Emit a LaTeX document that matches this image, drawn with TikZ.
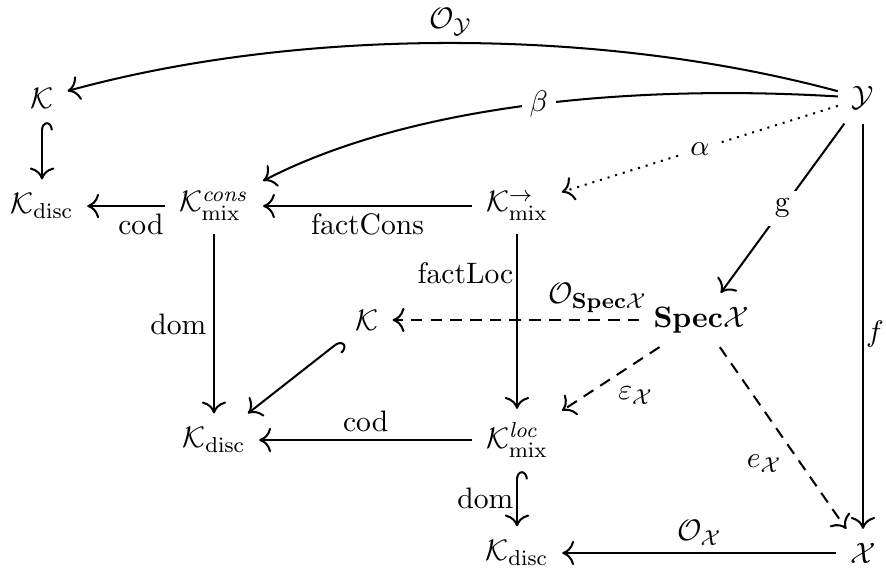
\documentclass[tikz,border=0pt]{standalone}
\usepackage{amsmath,amssymb}
\usetikzlibrary{arrows.meta}
\begin{document}
\begin{tikzpicture}[x=0.37pt,y=-0.37pt,
  every node/.style={font=\fontsize{10.95}{13}\selectfont},
  obj/.style={inner sep=5pt},
  lbl/.style={inner sep=2.5pt},
  lblw/.style={inner sep=3pt, fill=white},
  ar/.style={line width=0.75pt, -{Computer Modern Rightarrow[length=4.4pt,width=9pt]}},
  hk/.style={line width=0.75pt, {Hooks[right,width=8pt,length=3pt]}-{Computer Modern Rightarrow[length=4.4pt,width=9pt]}},
  dsh/.style={dash pattern=on 4.3pt off 3pt},
  dtd/.style={dash pattern=on 0.75pt off 2.2pt}
]
\useasboundingbox (0,0) rectangle (886,573);
\node[obj] (K1) at (42,98) {$\mathcal{K}$};
\node[obj] (Y) at (863,98) {$\mathcal{Y}$};
\node[obj] (Kd1) at (42,206) {$\mathcal{K}_{\mathrm{disc}}$};
\node[obj] (Kc) at (214,206) {$\mathcal{K}^{\mathit{cons}}_{\mathrm{mix}}$};
\node[obj] (Ka) at (517,206) {$\mathcal{K}^{\rightarrow}_{\mathrm{mix}}$};
\node[obj] (K2) at (367,320) {$\mathcal{K}$};
\node[obj] (S) at (701,320) {$\mathbf{Spec}\mathcal{X}$};
\node[obj] (Kd2) at (214,440) {$\mathcal{K}_{\mathrm{disc}}$};
\node[obj] (Kl) at (517,440) {$\mathcal{K}^{\mathit{loc}}_{\mathrm{mix}}$};
\node[obj] (Kd3) at (517,553) {$\mathcal{K}_{\mathrm{disc}}$};
\node[obj] (X) at (863,553) {$\mathcal{X}$};

\draw[ar] (Y) .. controls (600,27) and (300,27) .. (K1) node[lbl,above,pos=0.5] {$\mathcal{O}_{\mathcal{Y}}$};
\draw[ar] (Y) .. controls (650,85) and (420,100) .. (Kc) node[lblw,pos=0.5] {$\beta$};
\draw[ar,dtd] (Y) -- node[lblw] {$\alpha$} (Ka);
\draw[ar] (Y) -- node[lblw] {$\mathrm{g}$} (S);
\draw[ar] (Y) -- node[right,inner sep=0.8pt,pos=0.52] {$f$} (X);
\draw[hk] (K1) -- (Kd1);
\draw[ar] (Kc) -- node[lbl,below,pos=0.31] {cod} (Kd1);
\draw[ar] (Ka) -- node[lbl,below] {factCons} (Kc);
\draw[ar] (Kc) -- node[lbl,left] {dom} (Kd2);
\draw[ar] (Ka) -- node[left,inner sep=1pt,pos=0.22] {factLoc} (Kl);
\draw[ar,dsh] (S) -- node[lbl,above,pos=0.17] {$\mathcal{O}_{\mathbf{Spec}\mathcal{X}}$} (K2);
\draw[hk] (K2) -- (Kd2);
\draw[ar] (Kl) -- node[lbl,above] {cod} (Kd2);
\draw[ar,dsh] (S) -- node[lbl,anchor=north west,pos=0.5] {$\varepsilon_{\mathcal{X}}$} (Kl);
\draw[ar,dsh] (S) -- node[lbl,anchor=north east,pos=0.55] {$e_{\mathcal{X}}$} (X);
\draw[hk] (Kl) -- node[left,inner sep=1pt] {dom} (Kd3);
\draw[ar] (X) -- node[lbl,above] {$\mathcal{O}_{\mathcal{X}}$} (Kd3);
\end{tikzpicture}
\end{document}
